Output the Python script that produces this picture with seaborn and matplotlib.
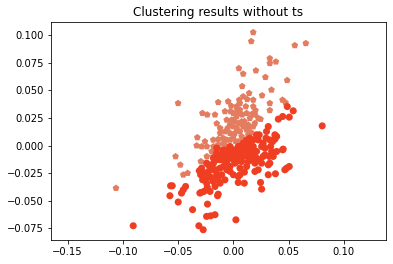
import matplotlib
matplotlib.use("Agg")
import matplotlib.pyplot as plt
import seaborn as sns
import pandas as pd

title = "Clustering results without ts"

# Cluster 1 (pentagons)
c1_x = [0.018, 0.0162, 0.0556, 0.0656, 0.033, 0.0385, 0.033, 0.005, 0.0089, 0.0204,
        0.029, 0.0487, 0.008, 0.0143, 0.0125, 0.026, 0.0345, -0.050, -0.0137, -0.0047,
        0.0053, 0.0059, 0.033, 0.0445, 0.0472, 0.033, -0.028, -0.0236, -0.0166, -0.0076,
        -0.0025, 0.0035, 0.0113, 0.018, -0.006, -0.0016, 0.003, 0.012, 0.0195, 0.0246,
        -0.0326, -0.0332, -0.0257, -0.0182, -0.0137, -0.0092, -0.003, 0.0014, 0.006, 0.012,
        0.0195, -0.024, -0.018, -0.0137, -0.006, 0.0, 0.0075, 0.0135, -0.012, 0.0,
        -0.018, -0.024, -0.0294, -0.0523, -0.048, -0.0453, -0.0414, -0.1062, -0.012, -0.0076,
        -0.003, 0.0014, 0.0075, 0.0044, 0.0089, 0.015, 0.0089, 0.003, 0.0, 0.018,
        0.0225, 0.0135, -0.0196, -0.0106, -0.006, 0.0044, 0.0089, -0.0287, 0.018, 0.017,
        0.006, 0.0, -0.003, 0.003, 0.005, 0.010, -0.005, 0.012, 0.016, -0.009,
        0.002, 0.008, 0.020, -0.002, 0.014, -0.015]
c1_y = [0.1026, 0.0945, 0.0908, 0.0927, 0.079, 0.076, 0.0746, 0.070, 0.065, 0.068,
        0.062, 0.0592, 0.0538, 0.0475, 0.042, 0.0454, 0.0505, 0.0384, 0.0393, 0.040,
        0.0414, 0.0384, 0.0384, 0.0414, 0.039, 0.032, 0.0294, 0.028, 0.028, 0.031,
        0.031, 0.0325, 0.0355, 0.0355, 0.0233, 0.0233, 0.0264, 0.0294, 0.028, 0.024,
        0.0074, 0.0, 0.0037, 0.0052, 0.0058, 0.0068, 0.0113, 0.0113, 0.0128, 0.0143,
        0.0203, -0.0008, -0.0008, 0.0007, 0.0052, 0.0083, 0.0083, 0.0098, 0.0158, 0.0173,
        -0.0098, -0.0098, -0.0143, -0.0098, -0.0174, -0.0264, -0.0249, -0.0385, 0.0113, 0.0128,
        0.0188, 0.0218, 0.0218, 0.0294, 0.0173, 0.0249, 0.0445, 0.0355, 0.0294, 0.0414,
        0.0249, 0.0188, -0.0053, -0.0038, -0.0008, 0.0037, 0.0052, -0.0008, 0.0173, 0.0287,
        0.0325, 0.0233, 0.0052, 0.0158, 0.020, 0.022, 0.016, 0.005, 0.012, 0.002,
        0.004, 0.028, 0.032, 0.036, 0.017, 0.020]

# Cluster 0 (circles)
c0_x = [0.0804, 0.0542, 0.0488, 0.0506, 0.0446, 0.0407, 0.0316, 0.030, 0.021, 0.0376,
        0.0295, 0.0225, 0.012, 0.018, 0.0256, 0.0355, 0.0337, 0.0286, 0.0451, 0.0346,
        0.0325, 0.033, 0.0316, 0.027, 0.0195, 0.0134, 0.0225, 0.021, 0.0381, 0.0316,
        0.0482, 0.0506, 0.0466, 0.0246, 0.0256, 0.0099, 0.0044, 0.0044, 0.006, 0.0,
        -0.006, -0.003, -0.012, -0.0106, -0.0157, -0.0076, -0.0137, -0.0212, -0.0182, -0.0242,
        -0.0236, -0.0266, -0.0293, -0.0296, -0.0266, -0.0308, -0.0287, -0.0226, -0.018, -0.012,
        -0.0076, -0.003, 0.0, 0.0044, 0.006, 0.0089, 0.0134, 0.0165, -0.006, -0.0106,
        -0.0151, -0.0553, -0.0568, -0.0574, -0.0499, -0.0469, -0.0453, -0.0432, -0.0369, -0.0303,
        -0.0234, -0.0242, -0.0206, -0.0166, -0.0143, -0.0137, 0.0023, -0.0312, -0.0273, -0.0906,
        0.0165, 0.012, 0.0089, 0.0134, 0.018, 0.006, 0.0014, -0.003, 0.003, -0.018,
        -0.0226, -0.0151, -0.0196, -0.012, -0.0166, -0.0211, 0.0014, 0.0075, 0.012, 0.0195,
        0.0256, 0.0286, 0.021, 0.0104, -0.0151, -0.009, 0.0, -0.006, -0.012, -0.018,
        -0.0242, 0.006, 0.0376, 0.0392, 0.033, 0.0234, 0.0149, 0.027, 0.0165, 0.024,
        0.0125, -0.003, -0.009, -0.0151, -0.0196, -0.0248, -0.0278, -0.003, 0.0361, 0.0391,
        0.0445, 0.002, 0.008, -0.004, 0.014, 0.004, -0.009, 0.018, 0.010]
c0_y = [0.0179, 0.0315, 0.0354, 0.0258, 0.0264, 0.024, 0.0173, 0.0128, 0.0098, 0.0098,
        0.0068, 0.0052, 0.0052, -0.0008, -0.0008, 0.0037, -0.0008, -0.0023, -0.0032, -0.0053,
        -0.0098, -0.0159, -0.0174, -0.0098, -0.0159, -0.0144, -0.0219, -0.0113, -0.0255, -0.0264,
        -0.0204, -0.0189, -0.0219, -0.0334, -0.0394, -0.034, -0.028, -0.0334, -0.0204, -0.0128,
        -0.0159, -0.0189, -0.0204, -0.0264, -0.0219, -0.031, -0.031, -0.028, -0.0325, -0.034,
        -0.0376, -0.0415, -0.0425, -0.0264, -0.0249, -0.0228, -0.0204, -0.0174, -0.0159, -0.0128,
        -0.0098, -0.0068, -0.0038, -0.0008, -0.0068, -0.0098, -0.0053, -0.0023, -0.0053, -0.0083,
        -0.0068, -0.0364, -0.0364, -0.0454, -0.0511, -0.043, -0.040, -0.037, -0.058, -0.043,
        -0.053, -0.0641, -0.0636, -0.0626, -0.0454, -0.044, -0.0672, -0.0726, -0.0762, -0.0726,
        -0.0068, -0.0008, 0.0022, 0.0037, 0.0052, -0.0008, -0.0053, -0.0113, -0.0098, -0.0219,
        -0.0234, -0.0264, -0.0295, -0.034, -0.037, -0.0415, -0.0159, -0.0144, -0.0189, -0.0234,
        -0.0159, -0.0083, -0.0053, -0.0038, -0.0128, -0.0189, -0.0264, -0.0219, -0.0098, -0.0113,
        -0.0159, -0.0264, 0.0058, 0.0083, 0.0052, 0.0098, 0.0068, 0.0022, -0.0128, -0.0128,
        -0.0093, -0.0008, -0.0038, -0.0023, -0.0189, -0.0295, -0.031, -0.0234, -0.0098, -0.0053,
        -0.0038, -0.009, -0.004, -0.003, 0.001, -0.014, -0.013, -0.008, -0.024]

df = pd.DataFrame({
    "x": c1_x + c0_x,
    "y": c1_y + c0_y,
    "cluster": ["c1"] * len(c1_x) + ["c0"] * len(c0_x),
})

fig = plt.figure(figsize=(393 / 72, 264 / 72), dpi=72)
ax = fig.add_axes([0.1298, 0.0909, 0.852, 0.8258])

palette = {"c1": "#E47D60", "c0": "#F03E22"}
markers = {"c1": "p", "c0": "o"}
sns.scatterplot(data=df, x="x", y="y", hue="cluster", style="cluster",
                palette=palette, markers=markers, s=50, linewidth=0,
                legend=False, ax=ax)

ax.set_xlim(-0.165, 0.138)
ax.set_ylim(-0.0855, 0.112)
ax.set_xticks([-0.15, -0.10, -0.05, 0.0, 0.05, 0.10])
ax.set_yticks([-0.075, -0.05, -0.025, 0.0, 0.025, 0.05, 0.075, 0.10])
ax.set_xticklabels(["\u22120.15", "\u22120.10", "\u22120.05", "0.00", "0.05", "0.10"])
ax.set_yticklabels(["\u22120.075", "\u22120.050", "\u22120.025", "0.000", "0.025", "0.050", "0.075", "0.100"])
ax.set_xlabel("")
ax.set_ylabel("")
ax.set_title(title, fontsize=12)
ax.tick_params(labelsize=10)

fig.savefig("out.png", dpi=72)
